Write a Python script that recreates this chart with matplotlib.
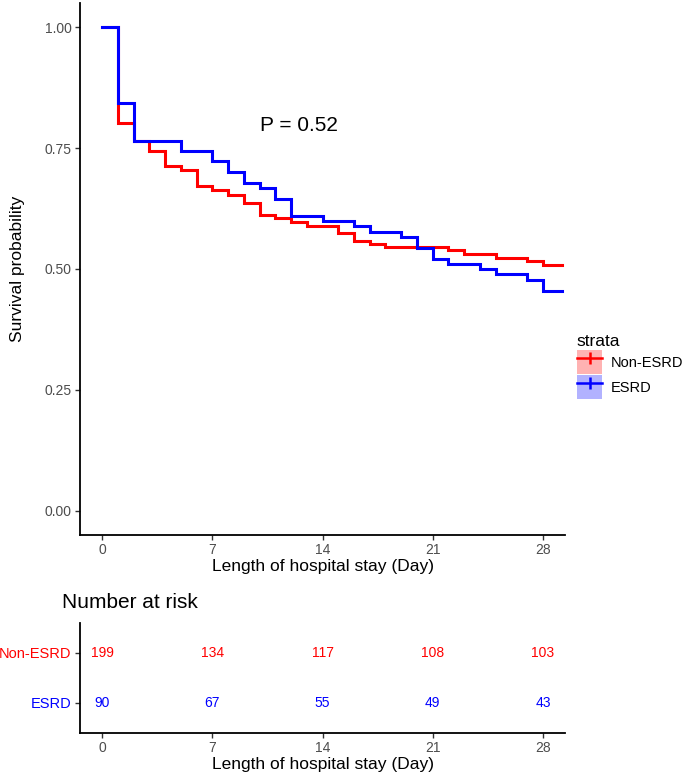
import matplotlib
matplotlib.use("Agg")
import matplotlib.pyplot as plt
from matplotlib.lines import Line2D
from matplotlib.patches import Patch

plt.rcParams["font.family"] = ["Liberation Sans", "DejaVu Sans"]

# Kaplan-Meier steps
red_times = [0, 1, 2, 3, 4, 5, 6, 7, 8, 9, 10, 11, 12, 13, 15, 16, 17, 18, 22, 23, 25, 27, 28]
red_surv = [1.0, 0.801, 0.765, 0.744, 0.714, 0.705, 0.672, 0.663, 0.653, 0.636, 0.612, 0.605,
            0.597, 0.588, 0.574, 0.558, 0.552, 0.546, 0.539, 0.532, 0.522, 0.517, 0.508]
blue_times = [0, 1, 2, 5, 7, 8, 9, 10, 11, 12, 14, 16, 17, 19, 20, 21, 22, 24, 25, 27, 28]
blue_surv = [1.0, 0.843, 0.765, 0.744, 0.723, 0.700, 0.677, 0.667, 0.645, 0.609, 0.599, 0.589,
             0.577, 0.566, 0.543, 0.521, 0.510, 0.499, 0.489, 0.477, 0.455]
end_time = 29.2

groups = ["Non-ESRD", "ESRD"]
colors = ["#FF0000", "#0000FF"]
risk_times = [0, 7, 14, 21, 28]
risk_non_esrd = [199, 134, 117, 108, 103]
risk_esrd = [90, 67, 55, 49, 43]
p_text = "P = 0.52"

W, H = 685, 779
fig = plt.figure(figsize=(W / 100, H / 100), dpi=100)

tick_col = "#4D4D4D"


def style_axes(ax):
    for s in ["top", "right"]:
        ax.spines[s].set_visible(False)
    for s in ["left", "bottom"]:
        ax.spines[s].set_linewidth(1.3)
        ax.spines[s].set_color("black")
    ax.tick_params(length=3.5, width=1.0, color="#333333", labelcolor=tick_col,
                   labelsize=10, pad=2.5)


# main survival panel
ax = fig.add_axes([80 / W, 1 - 535 / H, 485 / W, 532 / H])
for times, surv, col in [(red_times, red_surv, colors[0]), (blue_times, blue_surv, colors[1])]:
    ax.step(list(times) + [end_time], list(surv) + [surv[-1]], where="post",
            color=col, lw=2.2, solid_joinstyle="miter")
ax.set_xlim(-1.4, 29.4)
ax.set_ylim(-0.05, 1.05)
ax.set_xticks(risk_times)
ax.set_yticks([0, 0.25, 0.5, 0.75, 1.0])
ax.set_yticklabels(["0.00", "0.25", "0.50", "0.75", "1.00"])
style_axes(ax)
ax.set_xlabel("Length of hospital stay (Day)", fontsize=12.5, labelpad=1)
ax.set_ylabel("Survival probability", fontsize=12.5, labelpad=14)
ax.text(12.5, 0.796, p_text, fontsize=15, ha="center", va="center")

# legend
handles = [(Patch(facecolor=c, alpha=0.3, edgecolor="none"),
            Line2D([], [], color=c, lw=1.8, marker="|", markersize=9, markeredgewidth=1.8))
           for c in colors]
leg = fig.legend(handles, groups, loc="upper left", bbox_to_anchor=(571 / W, 1 - 328 / H),
                 frameon=False, title="strata", fontsize=10.5, title_fontsize=12.5,
                 handlelength=1.75, handleheight=2.1, labelspacing=0.1, handletextpad=0.6,
                 borderaxespad=0)
leg._legend_box.align = "left"

# risk table
rax = fig.add_axes([80 / W, 1 - 733 / H, 485 / W, 110 / H])
rax.set_xlim(-1.4, 29.4)
rax.set_ylim(0.4, 2.6)
for t, n in zip(risk_times, risk_non_esrd):
    rax.text(t, 2, str(n), color=colors[0], ha="center", va="center", fontsize=10)
for t, n in zip(risk_times, risk_esrd):
    rax.text(t, 1, str(n), color=colors[1], ha="center", va="center", fontsize=10)
rax.set_xticks(risk_times)
rax.set_yticks([2, 1])
rax.set_yticklabels(groups)
style_axes(rax)
for lbl, c in zip(rax.get_yticklabels(), colors):
    lbl.set_color(c)
    lbl.set_fontsize(10.5)
rax.set_xlabel("Length of hospital stay (Day)", fontsize=12.5, labelpad=1)
fig.text(62 / W, 1 - 603 / H, "Number at risk", fontsize=15, ha="left", va="center")

fig.savefig("out.png", dpi=100)
